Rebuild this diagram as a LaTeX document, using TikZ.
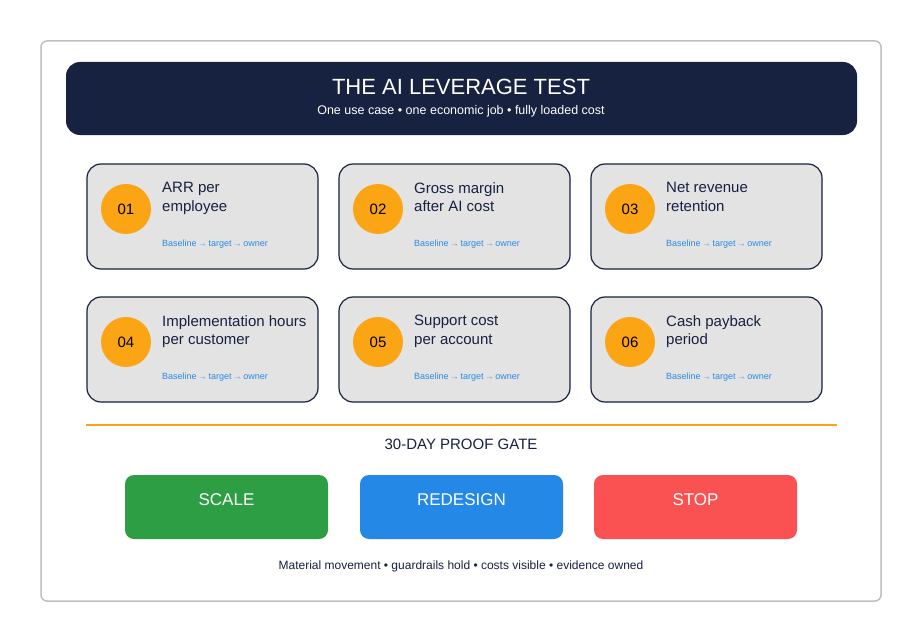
\documentclass[tikz,border=0pt]{standalone}
\usepackage{fontspec}
\setmainfont{Liberation Sans}
\begin{document}
\begin{tikzpicture}[x=1pt,y=-1pt,
  card/.style={draw=cnavy,line width=1.2pt,fill=cgray,rounded corners=14pt},
  badge/.style={circle,fill=corange,minimum size=50pt,inner sep=0pt,font=\fontsize{15}{15}\selectfont,text=black},
  ctitle/.style={anchor=north west,align=left,inner sep=0pt,font=\fontsize{15}{18.5}\selectfont,text=cnavy},
  csub/.style={anchor=west,inner sep=0pt,font=\fontsize{9}{9}\selectfont,text=cblue},
  btn/.style={rounded corners=9pt,text=white,font=\fontsize{17}{17}\selectfont}]
\definecolor{cnavy}{HTML}{172140}
\definecolor{cgray}{HTML}{E3E3E3}
\definecolor{corange}{HTML}{FBA514}
\definecolor{cblue}{HTML}{2A8AE6}
\definecolor{cgreen}{HTML}{2E9E44}
\definecolor{cbtnblue}{HTML}{2388E6}
\definecolor{cred}{HTML}{FA5252}
\useasboundingbox (0,0) rectangle (922,642);
\fill[white] (0,0) rectangle (922,642);
\draw[draw=black!25,line width=1.5pt,rounded corners=6pt] (41,41) rectangle (881,601);
\fill[cnavy,rounded corners=14pt] (66,62) rectangle (857,135);
\node[text=white,font=\fontsize{22}{22}\selectfont] (title) at (461,87) {THE AI LEVERAGE TEST};
\node[text=white,font=\fontsize{12.5}{12.5}\selectfont] (subtitle) at (461,111) {One use case • one economic job • fully loaded cost};
\foreach \i/\x/\y/\t in {01/87/164/{ARR per\\employee},02/339/164/{Gross margin\\after AI cost},03/591/164/{Net revenue\\retention},04/87/297/{Implementation hours\\per customer},05/339/297/{Support cost\\per account},06/591/297/{Cash payback\\period}}{
  \draw[card] (\x,\y) rectangle ++(231,105);
  \node[badge] (b\i) at (\x+39,\y+45) {\i};
  \node[ctitle] (t\i) at (\x+75,\y+18) {\t};
  \node[csub] (s\i) at (\x+75,\y+80) {Baseline $\scriptscriptstyle\rightarrow$ target $\scriptscriptstyle\rightarrow$ owner};
}
\draw[corange,line width=2.5pt] (86,425) -- (837,425);
\node[text=cnavy,font=\fontsize{15}{15}\selectfont] (gate) at (461,444) {30-DAY PROOF GATE};
\fill[cgreen,rounded corners=9pt] (125,475) rectangle (328,539);
\fill[cbtnblue,rounded corners=9pt] (360,475) rectangle (563,539);
\fill[cred,rounded corners=9pt] (594,475) rectangle (797,539);
\node[btn] (scale) at (226.5,500) {SCALE};
\node[btn] (redesign) at (461.5,500) {REDESIGN};
\node[btn] (stop) at (695.5,500) {STOP};
\node[text=cnavy,font=\fontsize{12}{12}\selectfont] (foot) at (461,566) {Material movement • guardrails hold • costs visible • evidence owned};
\end{tikzpicture}
\end{document}
